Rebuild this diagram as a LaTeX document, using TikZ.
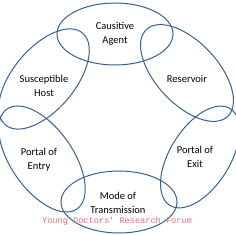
\documentclass[tikz,border=0pt]{standalone}
\usepackage{fontspec}
\setmainfont{Carlito}
\newfontfamily\markfont{Liberation Mono}
\usepackage{xcolor}
\usepackage{tikz}
\usetikzlibrary{positioning,shapes.geometric}
\definecolor{ringblue}{RGB}{55,96,150}
\definecolor{markred}{RGB}{240,110,120}
\tikzset{
    ring/.style={ellipse,draw=ringblue,line width=1pt,minimum width=116pt,minimum height=62pt,inner sep=0pt},
    lbl/.style={align=center,font=\fontsize{10.5}{14}\selectfont,text=black,inner sep=0pt},
}
\begin{document}
\begin{tikzpicture}[x=1pt,y=1pt]
\useasboundingbox (0,0) rectangle (236,235);
\node[ring] (agent) at (115,201) {};
\node[ring,rotate=-47,minimum width=119pt,minimum height=62pt] (resv) at (187,162) {};
\node[ring,rotate=58,minimum width=114pt,minimum height=60pt] (exit) at (200,78) {};
\node[ring] (mode) at (119,33) {};
\node[ring,rotate=-55,minimum width=122pt,minimum height=62pt] (entry) at (42,76) {};
\node[ring,rotate=50,minimum width=120pt,minimum height=62pt] (host) at (44,156) {};
\node[lbl] (tagent) at (agent.center) {Causitive\\Agent};
\node[lbl] (tresv) at (187,156) {Reservoir};
\node[lbl] (texit) at (195,78) {Portal of\\Exit};
\node[lbl] (tmode) at (118,32) {Mode of\\Transmission};
\node[lbl] (tentry) at (39,75) {Portal of\\Entry};
\node[lbl] (thost) at (44,149) {Susceptible\\Host};
\node[font=\markfont\fontsize{8.6}{10}\selectfont,text=markred,inner sep=0pt] (mark) at (117,14) {Young Doctors' Research Forum};
\end{tikzpicture}
\end{document}
